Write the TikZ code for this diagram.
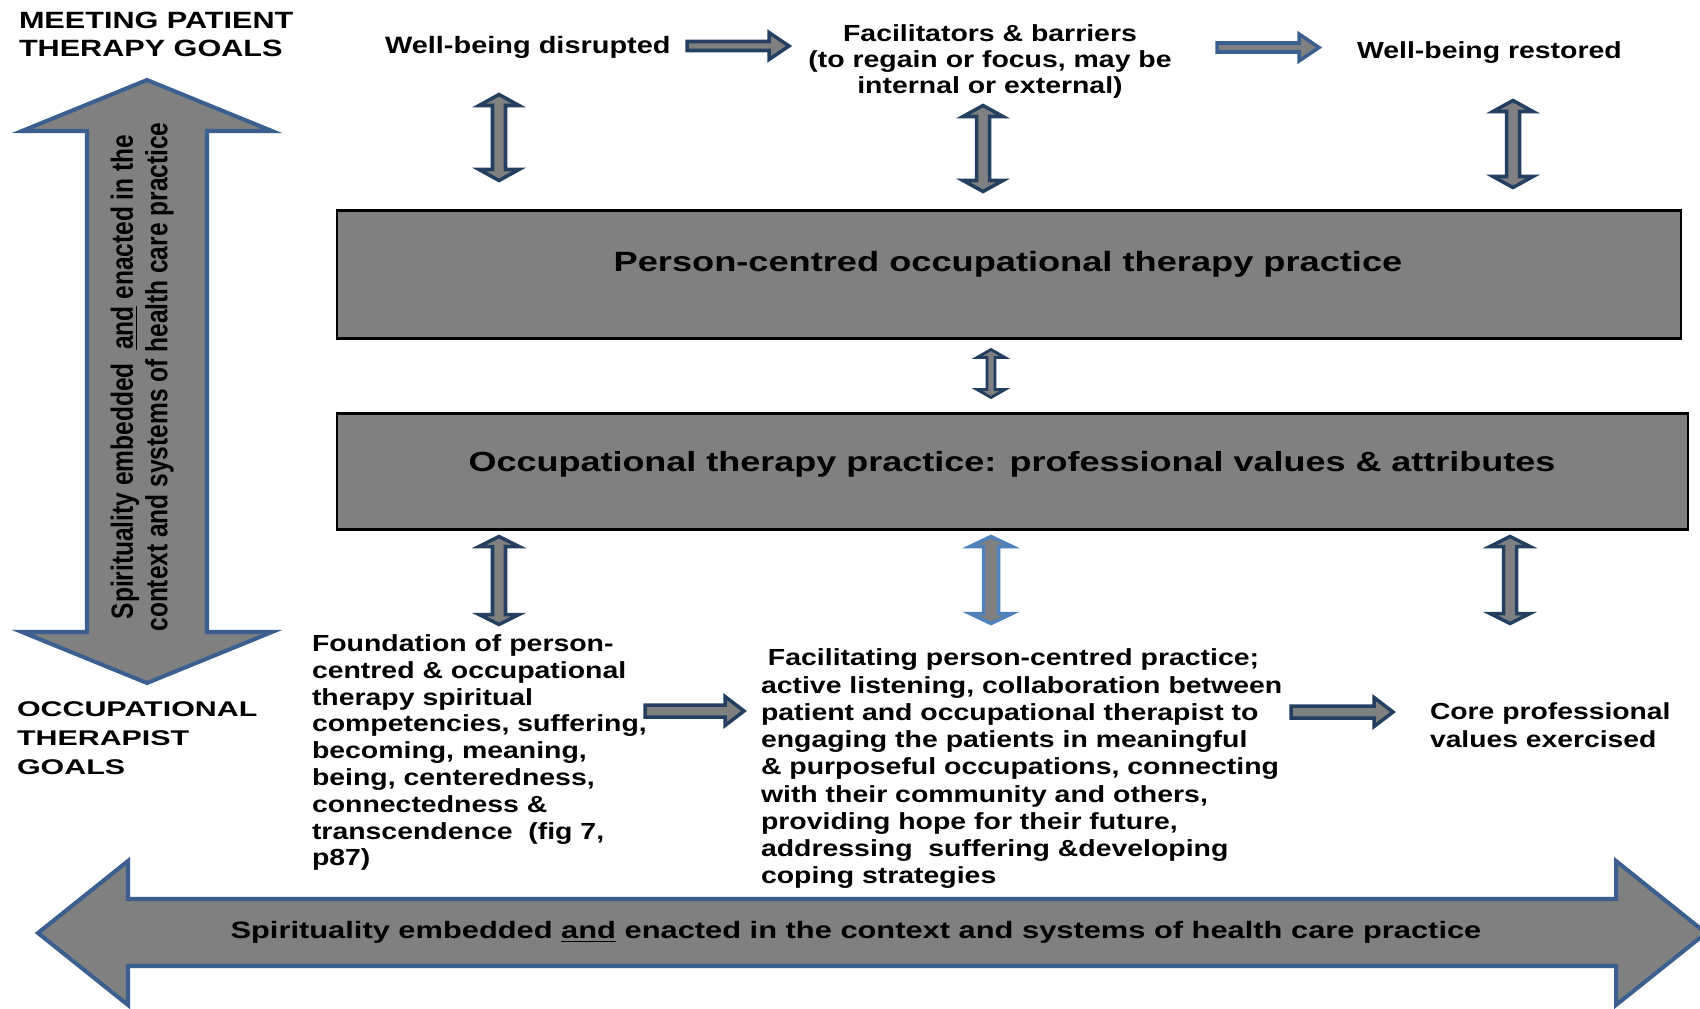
\documentclass[tikz,border=0pt]{standalone}
\usepackage{fontspec}
\setmainfont{Liberation Sans}
\newfontfamily\stA[FakeStretch=1.22]{Liberation Sans}
\newfontfamily\stB[FakeStretch=1.30]{Liberation Sans}
\newfontfamily\stC[FakeStretch=1.43]{Liberation Sans}
\newfontfamily\libs{Liberation Sans}
\definecolor{arrgray}{HTML}{808080}
\definecolor{navy}{HTML}{243F60}
\definecolor{steel}{HTML}{3B5F8E}
\definecolor{lsteel}{HTML}{4F81BD}
\newcommand\vdarr[7]{% cx, ytop, ybot, half shaft, half head, head len, style
  \draw[#7] (#1,#2) -- ({#1+#5},{#2+#6}) -- ({#1+#4},{#2+#6}) -- ({#1+#4},{#3-#6}) -- ({#1+#5},{#3-#6}) -- (#1,#3) -- ({#1-#5},{#3-#6}) -- ({#1-#4},{#3-#6}) -- ({#1-#4},{#2+#6}) -- ({#1-#5},{#2+#6}) -- cycle;}
\newcommand\rarr[7]{% xstart, xend, cy, half shaft, half head, head len, style
  \draw[#7] (#1,{#3-#4}) -- ({#2-#6},{#3-#4}) -- ({#2-#6},{#3-#5}) -- (#2,#3) -- ({#2-#6},{#3+#5}) -- ({#2-#6},{#3+#4}) -- (#1,{#3+#4}) -- cycle;}
\begin{document}
\begin{tikzpicture}[x=0.02cm,y=-0.02cm,
  smallarr/.style={fill=arrgray, draw=navy, line width=2pt, line join=miter},
  midarr/.style={fill=arrgray, draw=navy, line width=1.6pt, line join=miter},
  blarr/.style={fill=arrgray, draw=lsteel, line width=2pt, line join=miter},
  starr/.style={fill=arrgray, draw=steel, line width=2pt, line join=miter},
  bigarr/.style={fill=arrgray, draw=steel, line width=2.3pt, line join=miter},
  mainbox/.style={draw=black, fill=arrgray, line width=1.2pt, inner sep=0pt},
  lbl/.style={inner sep=0pt, text=black, outer sep=0pt},
  smallfont/.style={font=\stA\bfseries\fontsize{13.26}{15.3}\selectfont},
]
\useasboundingbox (0,0) rectangle (1700,1008);
\clip (0,0) rectangle (1700,1008);
\fill[white] (0,0) rectangle (1700,1008);

% big left vertical double arrow
\draw[bigarr] (147,80) -- (272,131) -- (207,131) -- (207,632) -- (272,632) -- (147,683)
  -- (22,632) -- (87,632) -- (87,131) -- (22,131) -- cycle;
% big bottom horizontal double arrow
\draw[bigarr] (38,933) -- (128,861) -- (128,899) -- (1616,899) -- (1616,861) -- (1706,933)
  -- (1616,1005) -- (1616,966) -- (128,966) -- (128,1005) -- cycle;

% main boxes
\node[mainbox, minimum width=26.88cm, minimum height=2.56cm] (box1) at (1009,274.5) {};
\node[mainbox, minimum width=27.04cm, minimum height=2.32cm] (box2) at (1012.5,471.5) {};

% texts
\node[lbl, anchor=north west, align=left, font=\stB\bfseries\fontsize{13.4}{16.1}\selectfont]
  (goalsP) at (19,11.7) {MEETING PATIENT\\THERAPY GOALS};
\node[lbl, anchor=base west, font=\stA\bfseries\fontsize{13.5}{15.3}\selectfont] (wbd) at (385,53.3) {Well-being disrupted};
\node[lbl, anchor=north, align=center, font=\stA\bfseries\fontsize{13.26}{14.8}\selectfont]
  (facb) at (990,25) {Facilitators \& barriers\\(to regain or focus, may be\\internal or external)};
\node[lbl, anchor=base west, smallfont] (wbr) at (1357,58.3) {Well-being restored};
\node[lbl, anchor=base, font=\stB\bfseries\fontsize{15.85}{18}\selectfont] (t1) at (1008,271.7)
  {Person-centred occupational therapy practice};
\node[lbl, anchor=base, font=\stB\bfseries\fontsize{15.75}{18}\selectfont] (t2) at (1012,471.7)
  {Occupational therapy practice: professional values \& attributes};
\node[lbl, anchor=north west, align=left, font=\stA\bfseries\fontsize{13.26}{15.25}\selectfont] (found) at (312,634.6)
  {Foundation of person-\\centred \& occupational\\therapy spiritual\\competencies, suffering,\\becoming, meaning,\\being, centeredness,\\connectedness \&\\transcendence\ \ (fig 7,\\p87)};
\node[lbl, anchor=north west, align=left, font=\stA\bfseries\fontsize{13.26}{15.5}\selectfont] (facil) at (761,649)
  {\hspace*{0.3em}Facilitating person-centred practice;\\active listening, collaboration between\\patient and occupational therapist to\\engaging the patients in meaningful\\\& purposeful occupations, connecting\\with their community and others,\\providing hope for their future,\\addressing\ \ suffering \&developing\\coping strategies};
\node[lbl, anchor=north west, align=left, font=\stA\bfseries\fontsize{13.2}{15.7}\selectfont]
  (core) at (1430,703) {Core professional\\values exercised};
\node[lbl, anchor=north west, align=left, font=\stC\bfseries\fontsize{12.1}{16.4}\selectfont]
  (goalsO) at (17,702) {OCCUPATIONAL\\THERAPIST\\GOALS};
\node[lbl, anchor=base, font=\stB\bfseries\fontsize{13.5}{16}\selectfont] (spirH) at (856,938.3)
  {Spirituality embedded \underline{and} enacted in the context and systems of health care practice};
\node[lbl, anchor=center, rotate=90, font=\libs\bfseries\fontsize{13.94}{16}\selectfont]
  (spirV) at (143,377) {\scalebox{1}[1.25]{\begin{tabular}{@{}c@{}}Spirituality embedded\ \ \underline{and} enacted in the\\[-0.3pt]context and systems of health care practice\end{tabular}}};

% horizontal block arrows
\rarr{687}{789}{46}{4.5}{13.5}{20}{smallarr}
\rarr{1217}{1319}{47.5}{4.5}{13.5}{20}{starr}
\rarr{645}{744}{711}{6}{14.5}{19}{smallarr}
\rarr{1291}{1393}{712}{6}{14.5}{19}{smallarr}

% vertical double arrows
\vdarr{499}{94.5}{180.5}{6.5}{20}{11}{smallarr}
\vdarr{983}{105.5}{191.5}{6.5}{20}{11}{smallarr}
\vdarr{1513}{100.5}{187.5}{6.5}{20}{11}{smallarr}
\vdarr{991}{349.5}{397.5}{4}{14}{8}{midarr}
\vdarr{499}{536.5}{624.5}{6.5}{20}{10}{smallarr}
\vdarr{991}{536.5}{623.5}{7.5}{21}{10}{blarr}
\vdarr{1510}{536.5}{623.5}{6.5}{20}{10}{smallarr}
\end{tikzpicture}
\end{document}
